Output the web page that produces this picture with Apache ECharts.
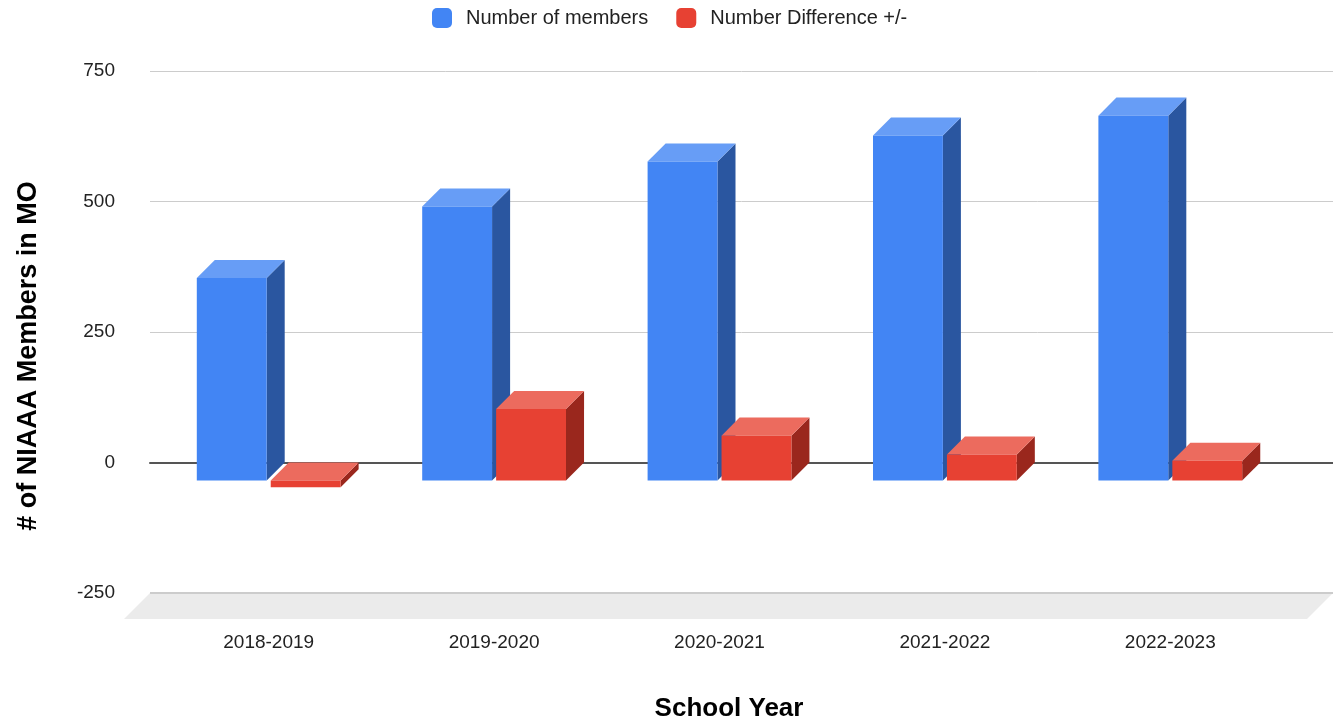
<!DOCTYPE html>
<html>
<head>
<meta charset="utf-8">
<script src="https://cdn.jsdelivr.net/npm/echarts@6/dist/echarts.min.js"></script>
<style>
html,body{margin:0;padding:0;background:#fff;}
#chart{width:1333px;height:722px;}
</style>
</head>
<body>
<div id="chart"></div>
<script>
const categories = ['2018-2019', '2019-2020', '2020-2021', '2021-2022', '2022-2023'];
const members = [388, 525, 611, 661, 699];
const differences = [-13, 137, 86, 50, 38];
const seriesNames = ['Number of members', 'Number Difference +/-'];
const yMin = -250, yMax = 750, yStep = 250;

const FONT = 'Liberation Sans, Arial, sans-serif';
const blue = {front: '#4285F4', top: '#679DF6', side: '#2A56A0'};
const red = {front: '#E74133', top: '#EC6B5E', side: '#9A271D'};

function makeRender(slot, colors) {
  return function (params, api) {
    const idx = api.value(0), v = api.value(1);
    const c = api.coord([idx, 0]);
    const band = api.size([1, 0])[0];
    const barW = band * 0.31, gap = band * 0.018, d = band * 0.08;
    const xl = slot === 0 ? c[0] - gap / 2 - barW : c[0] + gap / 2;
    const yHi = api.coord([idx, Math.max(v, 0)])[1] + d;
    const yLo = api.coord([idx, Math.min(v, 0)])[1] + d;
    return {
      type: 'group',
      children: [
        {type: 'polygon', shape: {points: [[xl + barW, yHi], [xl + barW + d, yHi - d], [xl + barW + d, yLo - d], [xl + barW, yLo]]}, style: {fill: colors.side}},
        {type: 'polygon', shape: {points: [[xl, yHi], [xl + barW, yHi], [xl + barW + d, yHi - d], [xl + d, yHi - d]]}, style: {fill: colors.top}},
        {type: 'rect', shape: {x: xl, y: yHi, width: barW, height: yLo - yHi}, style: {fill: colors.front}}
      ]
    };
  };
}

const chart = echarts.init(document.getElementById('chart'), null, {renderer: 'canvas'});
chart.setOption({
  animation: false,
  backgroundColor: '#ffffff',
  textStyle: {fontFamily: FONT},
  legend: {
    data: seriesNames,
    top: 8,
    left: 432,
    padding: 0,
    itemWidth: 20,
    itemHeight: 20,
    itemGap: 28,
    icon: 'roundRect',
    textStyle: {fontSize: 20, color: '#222', fontFamily: FONT, padding: [0, 0, 0, 9]}
  },
  grid: [
    {left: 150, right: 0, top: 71, bottom: 129},
    {left: 156, right: 50, top: 71, bottom: 129}
  ],
  xAxis: [
    {type: 'value', gridIndex: 0, min: 0, max: 1, axisLabel: {show: false}, axisTick: {show: false}, splitLine: {show: false},
     axisLine: {show: true, onZero: true, lineStyle: {color: '#555', width: 2}}},
    {type: 'category', gridIndex: 1, data: categories, axisLine: {show: false}, axisTick: {show: false},
     axisLabel: {fontSize: 19, margin: 40, color: '#222', fontFamily: FONT}}
  ],
  yAxis: [
    {type: 'value', gridIndex: 0, min: yMin, max: yMax, interval: yStep, axisLine: {show: false}, axisTick: {show: false},
     axisLabel: {fontSize: 19, margin: 35, color: '#222', fontFamily: FONT},
     splitLine: {lineStyle: {color: '#cccccc', width: 1}}},
    {type: 'value', gridIndex: 1, min: yMin, max: yMax, interval: yStep, show: false}
  ],
  graphic: [
    {type: 'text', x: 29, y: 356, rotation: Math.PI / 2,
     style: {text: '# of NIAAA Members in MO', font: 'bold 27px ' + FONT, fill: '#000', align: 'center', verticalAlign: 'middle'}},
    {type: 'text', x: 729, y: 709,
     style: {text: 'School Year', font: 'bold 26px ' + FONT, fill: '#000', align: 'center', verticalAlign: 'middle'}}
  ],
  series: [
    {
      type: 'custom', name: 'floor', xAxisIndex: 0, yAxisIndex: 0, z: -1, silent: true,
      data: [[0, yMin]],
      renderItem: function (params, api) {
        const cs = params.coordSys;
        const p = api.coord([0, yMin]);
        const d = 26;
        return {type: 'group', children: [
          {type: 'polygon', shape: {points: [[cs.x, p[1]], [cs.x + cs.width, p[1]], [cs.x + cs.width - d, p[1] + d], [cs.x - d, p[1] + d]]},
           style: {fill: '#EBEBEB'}},
          {type: 'line', shape: {x1: cs.x, y1: p[1], x2: cs.x + cs.width, y2: p[1]}, style: {stroke: '#cccccc', lineWidth: 2}}
        ]};
      }
    },
    {
      type: 'custom', name: seriesNames[0], xAxisIndex: 1, yAxisIndex: 1,
      itemStyle: {color: blue.front},
      encode: {x: 0, y: 1},
      data: members.map((v, i) => [i, v]),
      renderItem: makeRender(0, blue)
    },
    {
      type: 'custom', name: seriesNames[1], xAxisIndex: 1, yAxisIndex: 1,
      itemStyle: {color: red.front},
      encode: {x: 0, y: 1},
      data: differences.map((v, i) => [i, v]),
      renderItem: makeRender(1, red)
    }
  ]
});
</script>
</body>
</html>
